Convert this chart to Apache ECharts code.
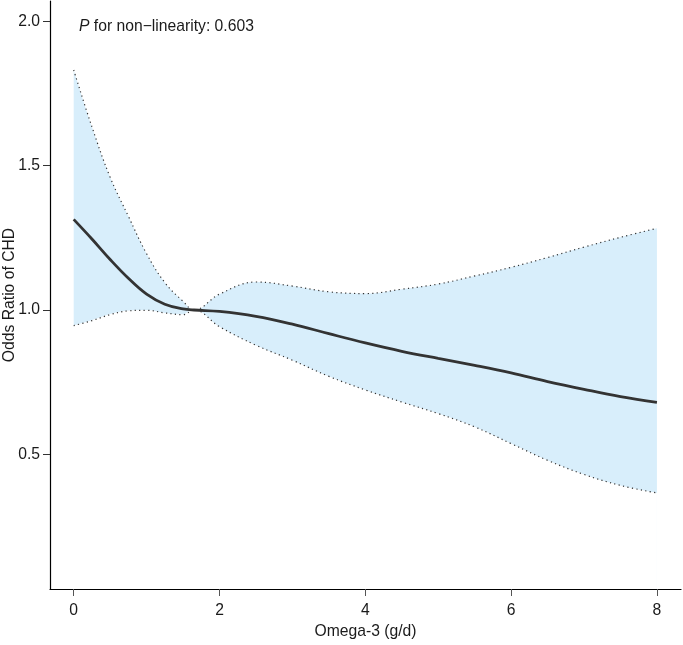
<!DOCTYPE html>
<html>
<head>
<meta charset="utf-8">
<script src="https://cdn.jsdelivr.net/npm/echarts@6/dist/echarts.min.js"></script>
<style>
  html, body { margin: 0; padding: 0; background: #fff; }
  #chart { width: 683px; height: 645px; }
</style>
</head>
<body>
<div id="chart"></div>
<script>
// Omega-3 intake (g/d)
const xValues = [0, 0.25, 0.5, 0.75, 1, 1.25, 1.5, 1.65, 2, 2.5, 3, 3.5, 4, 4.5, 5, 5.5, 6, 6.5, 7, 7.5, 8];
// Odds ratio estimate
const orValues = [1.314, 1.246, 1.175, 1.11, 1.055, 1.02, 1.004, 1.0, 0.995, 0.978, 0.951, 0.918, 0.886, 0.857, 0.832, 0.808, 0.782, 0.752, 0.725, 0.70, 0.68];
// 95% CI upper bound
const upperCI = [1.832, 1.635, 1.46, 1.325, 1.195, 1.095, 1.03, 1.0, 1.055, 1.097, 1.083, 1.063, 1.057, 1.072, 1.09, 1.118, 1.148, 1.182, 1.218, 1.252, 1.283];
// 95% CI lower bound
const lowerCI = [0.946, 0.963, 0.984, 0.997, 0.999, 0.99, 0.984, 1.0, 0.942, 0.878, 0.826, 0.77, 0.723, 0.681, 0.641, 0.595, 0.537, 0.479, 0.43, 0.392, 0.366];
// Tick labels
const xTicks = [0, 2, 4, 6, 8];
const yTicks = [0.5, 1.0, 1.5, 2.0];
const pText = 'non\u2212linearity: 0.603';

const pair = (ys) => xValues.map((x, i) => [x, ys[i]]);
const FONT = 'Liberation Sans, Arial, Helvetica, sans-serif';
const FS = 15.7;

const chart = echarts.init(document.getElementById('chart'), null, { renderer: 'canvas' });
chart.setOption({
  animation: false,
  backgroundColor: '#fff',
  title: {
    left: 79, top: 19, padding: 0,
    text: '{i|P} for ' + pText,
    textStyle: {
      fontFamily: FONT, fontSize: FS, fontWeight: 'normal', color: '#1a1a1a',
      rich: { i: { fontStyle: 'italic', fontFamily: FONT, fontSize: FS, color: '#1a1a1a' } }
    }
  },
  grid: { left: 50, right: 2, top: 1, bottom: 56, containLabel: false, outerBoundsMode: 'none' },
  xAxis: {
    type: 'value', min: -0.325, max: 8.33, z: 10,
    name: 'Omega-3 (g/d)', nameLocation: 'middle', nameGap: 35, nameMoveOverlap: false,
    nameTextStyle: { fontFamily: FONT, fontSize: FS, color: '#1a1a1a' },
    axisLine: { onZero: false, lineStyle: { color: '#000', width: 1.2 } },
    axisTick: { customValues: xTicks, length: 7, lineStyle: { color: '#555', width: 1 } },
    axisLabel: { customValues: xTicks, margin: 14, fontFamily: FONT, fontSize: FS, color: '#1a1a1a' },
    splitLine: { show: false }
  },
  yAxis: {
    type: 'value', min: 0.033, max: 2.071, z: 10,
    name: 'Odds Ratio of CHD', nameLocation: 'middle', nameGap: 32, nameMoveOverlap: false,
    nameTextStyle: { fontFamily: FONT, fontSize: FS, color: '#1a1a1a' },
    axisLine: { onZero: false, lineStyle: { color: '#000', width: 1.2 } },
    axisTick: { customValues: yTicks, length: 7, lineStyle: { color: '#333', width: 1 } },
    axisLabel: { customValues: yTicks, margin: 10, fontFamily: FONT, fontSize: FS, color: '#1a1a1a',
      formatter: (v) => Number(v).toFixed(1) },
    splitLine: { show: false }
  },
  series: [
    {
      name: 'upper', type: 'line', data: pair(upperCI), smooth: 0.4, symbol: 'none', z: 2,
      lineStyle: { color: '#333', width: 1.2, type: [1.2, 3.3] },
      areaStyle: { color: '#D8EEFB', opacity: 1, origin: 'start' }
    },
    {
      name: 'lower', type: 'line', data: pair(lowerCI), smooth: 0.4, symbol: 'none', z: 3,
      lineStyle: { color: '#333', width: 1.2, type: [1.2, 3.3] },
      areaStyle: { color: '#ffffff', opacity: 1, origin: 'start',
        shadowColor: '#ffffff', shadowBlur: 0, shadowOffsetX: -1.5 }
    },
    {
      name: 'OR', type: 'line', data: pair(orValues), smooth: 0.4, symbol: 'none', z: 4,
      lineStyle: { color: '#333', width: 2.8 }
    }
  ]
});
</script>
</body>
</html>
